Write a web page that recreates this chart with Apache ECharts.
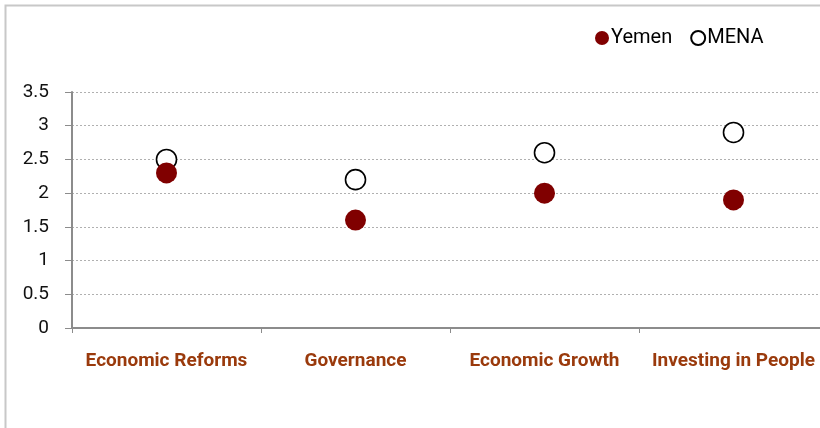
<!DOCTYPE html>
<html><head><meta charset="utf-8">
<script src="https://cdn.jsdelivr.net/npm/echarts@6/dist/echarts.min.js"></script>
<style>html,body{margin:0;padding:0;background:#fff;overflow:hidden;width:820px;height:428px}#c{width:840px;height:428px}</style>
</head><body><div id="c"></div>
<script>
var categories = ['Economic Reforms', 'Governance', 'Economic Growth', 'Investing in People'];
var yemen = [2.3, 1.6, 2.0, 1.9];
var mena = [2.5, 2.2, 2.6, 2.9];
var yTicks = [0, 0.5, 1, 1.5, 2, 2.5, 3, 3.5];

var chart = echarts.init(document.getElementById('c'));
chart.setOption({
  animation: false,
  graphic: [{
    type: 'rect', shape: {x: 5.5, y: 5.5, width: 900, height: 600},
    style: {fill: 'none', stroke: '#c8c8c8', lineWidth: 2}, silent: true, z: -10
  }],
  legend: {
    top: 23, left: 590, itemGap: 18, itemWidth: 14, itemHeight: 14,
    textStyle: {fontFamily: 'Roboto, sans-serif', fontSize: 20, color: '#000', padding: [0, 0, 0, -3]},
    data: [{name: 'Yemen', icon: 'circle'}, {name: 'MENA', icon: 'circle'}]
  },
  grid: {left: 72, top: 92, bottom: 100, width: 756, containLabel: false},
  xAxis: {
    type: 'category', data: categories, boundaryGap: true,
    axisLine: {lineStyle: {color: '#8c8c8c', width: 2}},
    axisTick: {show: true, length: 5, lineStyle: {color: '#8c8c8c', width: 1}},
    axisLabel: {margin: 24, interval: 0, color: '#9a3a0c', fontWeight: 'bold', fontSize: 19,
      fontFamily: 'Roboto, sans-serif'}
  },
  yAxis: {
    type: 'value', min: 0, max: 3.5, interval: 0.5,
    axisLine: {show: true, lineStyle: {color: '#8c8c8c', width: 2}},
    axisTick: {show: true, length: 7, lineStyle: {color: '#8c8c8c'}},
    axisLabel: {margin: 23, color: '#111', fontSize: 19, fontFamily: 'Roboto, sans-serif',
      formatter: function (v) { return yTicks.indexOf(v) >= 0 ? String(v) : ''; }},
    splitLine: {show: true, lineStyle: {color: '#b0b0b0', type: [2, 2], width: 1}}
  },
  series: [
    {name: 'MENA', type: 'scatter', data: mena, symbol: 'circle', symbolSize: 20, z: 2,
      itemStyle: {color: '#fff', borderColor: '#000', borderWidth: 1.6, opacity: 1}},
    {name: 'Yemen', type: 'scatter', data: yemen, symbol: 'circle', symbolSize: 21, z: 3,
      itemStyle: {color: '#800000', opacity: 1}}
  ]
});
</script></body></html>
